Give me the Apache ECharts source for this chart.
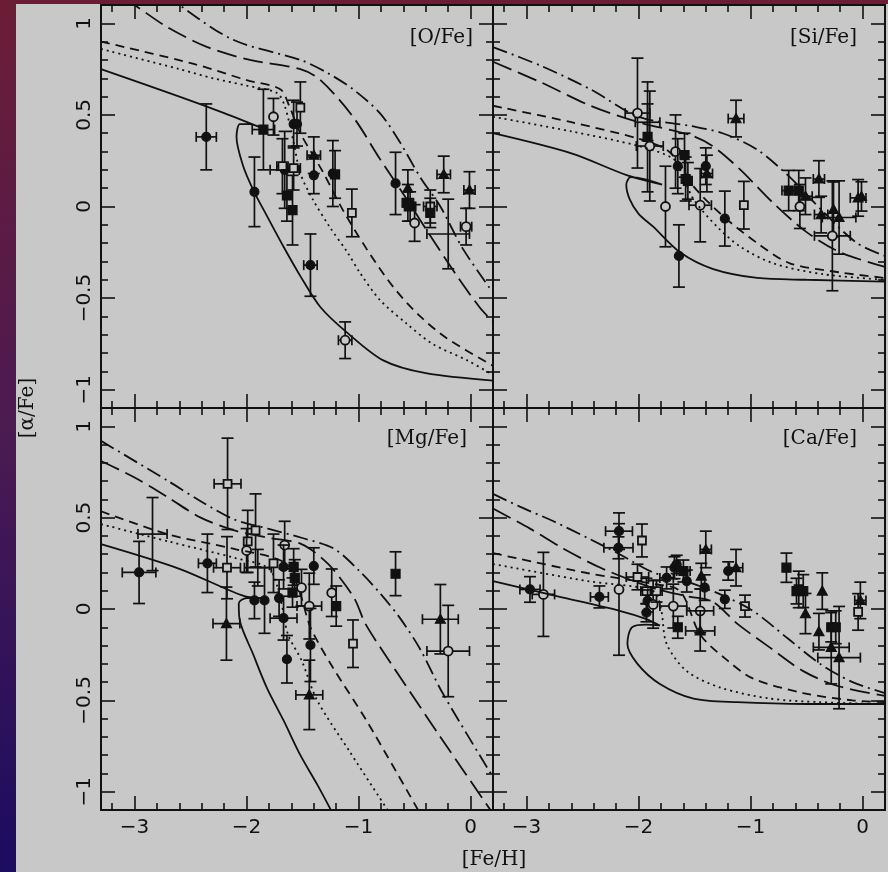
<!DOCTYPE html>
<html>
<head>
<meta charset="utf-8">
<script src="https://cdn.jsdelivr.net/npm/echarts@6/dist/echarts.min.js"></script>
<style>
html, body { margin: 0; padding: 0; width: 888px; height: 872px; overflow: hidden;
  background: linear-gradient(180deg, #6c1d36 0%, #4b1a52 50%, #1b0c60 100%); }
#bg { position: absolute; left: 16px; top: 4px; width: 872px; height: 868px; background: #c8c8c8; }
#main { position: absolute; left: 0; top: 0; width: 888px; height: 872px; }
</style>
</head>
<body>
<div id="bg"></div>
<div id="main"></div>
<script>
// tick positions
var xMajor = [-3, -2, -1, 0];
var xMinor = [-3.2, -2.8, -2.6, -2.4, -2.2, -1.8, -1.6, -1.4, -1.2, -0.8, -0.6, -0.4, -0.2];
var yMajor = [-1, -0.5, 0, 0.5, 1];
var yMinor = [-0.9, -0.8, -0.7, -0.6, -0.4, -0.3, -0.2, -0.1, 0.1, 0.2, 0.3, 0.4, 0.6, 0.7, 0.8, 0.9];

// model curves [Fe/H], [X/Fe]
var oSolid = [[-3.3,0.75],[-2.6,0.60],[-2.2,0.51],[-1.87,0.43],[-1.97,0.45],[-2.06,0.45],[-2.09,0.38],[-2.03,0.22],[-1.94,0.09],[-1.82,-0.05],[-1.67,-0.22],[-1.52,-0.38],[-1.34,-0.55],[-1.1,-0.69],[-0.78,-0.84],[-0.4,-0.91],[0.2,-0.95]];
var oDot = [[-3.3,0.86],[-2.6,0.75],[-2.3,0.70],[-2.0,0.66],[-1.73,0.62],[-1.66,0.55],[-1.58,0.35],[-1.52,0.18],[-1.41,0.04],[-1.26,-0.11],[-1.1,-0.25],[-0.99,-0.36],[-0.81,-0.51],[-0.57,-0.64],[-0.34,-0.75],[-0.03,-0.84],[0.2,-0.92]];
var oDash = [[-3.3,0.90],[-2.48,0.78],[-2.0,0.69],[-1.70,0.64],[-1.62,0.55],[-1.52,0.40],[-1.32,0.19],[-1.14,-0.02],[-0.93,-0.23],[-0.69,-0.44],[-0.45,-0.60],[-0.21,-0.72],[0.2,-0.87]];
var oLong = [[-3.3,1.22],[-3.0,1.1],[-2.71,0.98],[-2.35,0.87],[-1.97,0.80],[-1.52,0.75],[-1.34,0.69],[-1.05,0.49],[-0.81,0.26],[-0.57,0.04],[-0.36,-0.16],[-0.12,-0.38],[0.08,-0.55],[0.2,-0.63]];
var oDashDot = [[-3.3,1.42],[-2.6,1.1],[-2.12,0.91],[-1.52,0.80],[-1.28,0.73],[-1.05,0.64],[-0.81,0.51],[-0.63,0.35],[-0.45,0.16],[-0.27,0.0],[-0.07,-0.23],[0.2,-0.47]];

var siSolid = [[-3.3,0.40],[-2.6,0.29],[-2.1,0.17],[-1.79,0.12],[-1.95,0.15],[-2.07,0.16],[-2.11,0.12],[-2.08,0.04],[-2.0,-0.04],[-1.87,-0.11],[-1.63,-0.25],[-1.34,-0.34],[-0.94,-0.39],[-0.5,-0.40],[0.2,-0.41]];
var siDot = [[-3.3,0.49],[-2.6,0.41],[-2.0,0.33],[-1.69,0.26],[-1.6,0.16],[-1.51,0.04],[-1.30,-0.11],[-1.09,-0.22],[-0.8,-0.31],[-0.35,-0.37],[0.2,-0.40]];
var siDash = [[-3.3,0.55],[-2.6,0.46],[-2.0,0.37],[-1.75,0.31],[-1.62,0.22],[-1.51,0.11],[-1.25,-0.05],[-0.94,-0.20],[-0.65,-0.31],[-0.2,-0.36],[0.2,-0.39]];
var siLong = [[-3.3,0.79],[-2.88,0.68],[-2.43,0.55],[-2.0,0.46],[-1.54,0.39],[-1.34,0.33],[-1.09,0.20],[-0.8,0.02],[-0.5,-0.14],[-0.2,-0.25],[0.2,-0.33]];
var siDashDot = [[-3.3,0.87],[-2.88,0.77],[-2.43,0.64],[-2.0,0.49],[-1.54,0.44],[-1.25,0.40],[-0.94,0.31],[-0.65,0.16],[-0.35,-0.03],[-0.05,-0.20],[0.2,-0.27]];

var mgSolid = [[-3.3,0.355],[-2.6,0.22],[-2.02,0.07],[-1.85,0.06],[-2.0,0.06],[-2.07,0.03],[-2.06,-0.066],[-1.94,-0.25],[-1.82,-0.43],[-1.67,-0.61],[-1.52,-0.80],[-1.37,-0.96],[-1.23,-1.12]];
var mgDot = [[-3.3,0.465],[-2.7,0.37],[-2.11,0.28],[-1.8,0.22],[-1.7,0.06],[-1.63,-0.14],[-1.51,-0.28],[-1.37,-0.50],[-1.08,-0.78],[-0.72,-1.12]];
var mgDash = [[-3.3,0.535],[-2.71,0.41],[-2.12,0.33],[-1.65,0.25],[-1.52,0.08],[-1.43,-0.10],[-1.23,-0.32],[-0.93,-0.61],[-0.45,-1.12]];
var mgLong = [[-3.3,0.81],[-3.0,0.72],[-2.70,0.61],[-2.41,0.50],[-2.11,0.43],[-1.81,0.39],[-1.51,0.355],[-1.27,0.245],[-1.04,0.06],[-0.94,-0.08],[-0.73,-0.28],[-0.27,-0.70],[0.2,-1.12]];
var mgDashDot = [[-3.3,0.92],[-2.70,0.70],[-2.41,0.59],[-2.11,0.49],[-1.81,0.44],[-1.51,0.39],[-1.22,0.33],[-0.98,0.20],[-0.80,0.08],[-0.63,-0.05],[-0.45,-0.22],[-0.25,-0.46],[0.2,-0.92]];

var caSolid = [[-3.3,0.153],[-2.73,0.07],[-2.17,-0.01],[-1.93,-0.055],[-1.81,-0.09],[-1.93,-0.085],[-2.06,-0.10],[-2.10,-0.19],[-2.01,-0.30],[-1.81,-0.41],[-1.51,-0.49],[-1.12,-0.51],[-0.5,-0.52],[0.2,-0.52]];
var caDot = [[-3.3,0.246],[-2.46,0.153],[-1.87,0.098],[-1.80,0.0],[-1.75,-0.19],[-1.57,-0.34],[-1.27,-0.43],[-0.83,-0.49],[-0.38,-0.51],[0.2,-0.52]];
var caDash = [[-3.3,0.306],[-2.46,0.197],[-1.87,0.137],[-1.63,0.098],[-1.45,-0.14],[-1.21,-0.28],[-0.98,-0.38],[-0.53,-0.46],[-0.09,-0.50],[0.2,-0.51]];
var caLong = [[-3.3,0.55],[-2.97,0.44],[-2.67,0.33],[-2.32,0.22],[-1.87,0.115],[-1.57,0.07],[-1.34,0.04],[-1.12,-0.08],[-0.83,-0.21],[-0.53,-0.34],[-0.23,-0.42],[0.2,-0.475]];
var caDashDot = [[-3.3,0.63],[-3.06,0.56],[-2.76,0.48],[-2.46,0.39],[-2.17,0.30],[-1.87,0.20],[-1.57,0.15],[-1.27,0.08],[-0.98,-0.01],[-0.67,-0.16],[-0.38,-0.30],[-0.09,-0.40],[0.2,-0.46]];

// stars: [Fe/H], [X/Fe], xerr, yerr, symbol (0 filled circle, 1 open circle, 2 filled square, 3 open square, 4 triangle, 5 none)
var oStars = [[-2.36,0.38,0.09,0.18,0],[-1.93,0.08,0,0.19,0],[-1.85,0.42,0.10,0.22,2],[-1.76,0.49,0,0.10,1],[-1.66,0.20,0.13,0.21,0],[-1.68,0.22,0.05,0.15,3],[-1.64,0.06,0,0.14,2],[-1.59,-0.02,0,0.19,2],[-1.58,0.45,0,0.13,0],[-1.55,0.45,0,0.12,0],[-1.52,0.54,0,0.14,3],[-1.58,0.21,0.06,0.12,3],[-1.40,0.28,0.06,0.10,4],[-1.40,0.17,0,0.10,0],[-1.23,0.18,0,0.18,0],[-1.21,0.175,0,0.13,2],[-1.43,-0.32,0.06,0.17,0],[-1.06,-0.035,0,0.13,3],[-1.12,-0.73,0.06,0.10,1],[-0.67,0.126,0,0.17,0],[-0.56,0.10,0,0.10,4],[-0.56,0.02,0.05,0.10,2],[-0.54,0.0,0.05,0.08,2],[-0.50,-0.09,0,0.10,1],[-0.36,0.0,0.06,0.09,3],[-0.36,-0.035,0,0.08,2],[-0.24,0.175,0.06,0.10,4],[-0.20,-0.15,0.19,0.19,5],[-0.01,0.09,0.05,0.10,4],[-0.04,-0.11,0.05,0.10,1]];
var siStars = [[-2.01,0.51,0.11,0.30,1],[-1.92,0.38,0,0.30,2],[-1.92,0.46,0.11,0.10,5],[-1.90,0.33,0.12,0.30,1],[-1.76,0.0,0,0.22,1],[-1.67,0.30,0,0.20,1],[-1.65,0.22,0,0.15,0],[-1.59,0.28,0,0.12,2],[-1.58,0.15,0,0.12,2],[-1.56,0.14,0,0.10,2],[-1.64,-0.27,0,0.17,0],[-1.40,0.22,0,0.10,0],[-1.39,0.18,0.05,0.10,4],[-1.45,0.007,0.10,0.20,1],[-1.23,-0.066,0,0.15,0],[-1.06,0.007,0,0.13,3],[-1.13,0.48,0.07,0.10,4],[-0.66,0.087,0.06,0.11,2],[-0.57,0.087,0,0.11,2],[-0.56,0.0,0,0.12,1],[-0.51,0.056,0.06,0.10,4],[-0.39,0.15,0.05,0.10,4],[-0.37,-0.044,0.06,0.10,4],[-0.26,-0.016,0,0.15,4],[-0.27,-0.16,0.16,0.30,1],[-0.21,-0.06,0.15,0.20,4],[-0.04,0.047,0.07,0.10,4],[-0.01,0.055,0,0.08,4]];
var mgStars = [[-2.96,0.20,0.15,0.17,0],[-2.84,0.41,0.13,0.20,5],[-2.35,0.25,0.08,0.16,0],[-2.17,0.685,0.12,0.25,3],[-2.175,0.226,0.12,0.17,3],[-2.18,-0.08,0.12,0.20,4],[-1.99,0.37,0,0.17,3],[-2.0,0.32,0,0.12,1],[-1.92,0.43,0,0.20,3],[-1.90,0.226,0.12,0.10,5],[-1.93,0.047,0,0.10,0],[-1.84,0.047,0,0.18,0],[-1.76,0.25,0,0.16,3],[-1.66,0.35,0,0.13,1],[-1.67,0.23,0,0.12,0],[-1.71,0.06,0,0.10,0],[-1.67,-0.05,0.12,0.12,0],[-1.64,-0.275,0,0.13,0],[-1.58,0.23,0,0.10,2],[-1.57,0.17,0,0.10,2],[-1.51,0.117,0,0.10,1],[-1.59,0.09,0,0.08,2],[-1.40,0.235,0,0.10,0],[-1.44,0.016,0.11,0.18,1],[-1.43,-0.197,0,0.20,0],[-1.44,-0.47,0.12,0.19,4],[-1.24,0.089,0,0.13,1],[-1.20,0.016,0,0.11,2],[-1.05,-0.19,0,0.13,3],[-0.67,0.193,0,0.12,2],[-0.27,-0.056,0.16,0.19,4],[-0.20,-0.23,0.19,0.25,1]];
var caStars = [[-2.97,0.107,0.09,0.07,0],[-2.85,0.08,0.10,0.23,1],[-2.35,0.066,0.08,0.06,0],[-2.175,0.426,0.12,0.10,0],[-2.18,0.335,0.13,0.06,0],[-2.175,0.107,0,0.36,1],[-1.97,0.375,0,0.09,3],[-2.01,0.175,0.10,0.07,3],[-1.93,0.098,0.05,0.07,3],[-1.92,0.044,0,0.06,0],[-1.93,-0.02,0,0.05,0],[-1.87,0.025,0,0.13,1],[-1.84,0.098,0.05,0.06,3],[-1.75,0.17,0.06,0.06,0],[-1.68,0.226,0,0.06,0],[-1.66,0.244,0,0.05,0],[-1.60,0.208,0.06,0.06,2],[-1.57,0.153,0,0.06,0],[-1.69,0.016,0.12,0.12,1],[-1.65,-0.10,0,0.06,2],[-1.40,0.326,0.05,0.10,4],[-1.44,0.18,0,0.07,4],[-1.41,0.117,0,0.07,0],[-1.45,-0.01,0.12,0.12,1],[-1.45,-0.12,0.13,0.11,4],[-1.23,0.053,0,0.05,0],[-1.20,0.208,0,0.05,0],[-1.13,0.226,0.06,0.10,4],[-1.05,0.016,0,0.06,3],[-0.68,0.226,0,0.08,2],[-0.59,0.098,0,0.07,2],[-0.57,0.107,0,0.10,2],[-0.53,0.098,0,0.09,2],[-0.51,-0.025,0,0.11,4],[-0.36,0.098,0,0.10,4],[-0.39,-0.124,0,0.10,4],[-0.28,-0.10,0,0.08,2],[-0.24,-0.10,0,0.09,2],[-0.28,-0.21,0.16,0.20,4],[-0.21,-0.266,0.19,0.28,4],[-0.02,0.047,0.05,0.10,4],[-0.04,-0.016,0,0.10,3]];

var ink = '#111';
var paper = '#c8c8c8';

function fmt(v) {
  return v < 0 ? '\u2212' + Math.abs(v) : String(v);
}

var grids = [
  {left: 101, top: 5, width: 392, height: 403},
  {left: 493, top: 5, width: 392, height: 403},
  {left: 101, top: 408, width: 392, height: 402},
  {left: 493, top: 408, width: 392, height: 402}
];

var xAxes = [], yAxes = [];
function xAx(g, pos, vals, len, major, label) {
  return {
    type: 'value', gridIndex: g, position: pos, min: -3.3, max: 0.2,
    axisLine: {show: major, onZero: false, lineStyle: {color: ink, width: 2}},
    axisTick: {show: true, inside: true, length: len, customValues: vals, lineStyle: {color: ink, width: 1.6}},
    axisLabel: {show: label, customValues: xMajor, formatter: fmt, color: ink,
      fontFamily: 'DejaVu Sans', fontSize: 20, margin: 8},
    splitLine: {show: false}
  };
}
function yAx(g, pos, vals, len, major) {
  return {
    type: 'value', gridIndex: g, position: pos, min: -1.1, max: 1.1,
    axisLine: {show: major, onZero: false, lineStyle: {color: ink, width: 2}},
    axisTick: {show: true, inside: true, length: len, customValues: vals, lineStyle: {color: ink, width: 1.6}},
    axisLabel: {show: major && pos === 'left' && (g === 0 || g === 2), customValues: yMajor, formatter: fmt,
      color: ink, fontFamily: 'DejaVu Sans', fontSize: 20, margin: 6, rotate: 90},
    splitLine: {show: false}
  };
}
for (var g = 0; g < 4; g++) {
  var bottomRow = g >= 2;
  xAxes.push(xAx(g, 'bottom', xMajor, 14, true, bottomRow));
  xAxes.push(xAx(g, 'bottom', xMinor, 7, false, false));
  xAxes.push(xAx(g, 'top', xMajor, 14, true, false));
  xAxes.push(xAx(g, 'top', xMinor, 7, false, false));
  yAxes.push(yAx(g, 'left', yMajor, 14, true));
  yAxes.push(yAx(g, 'left', yMinor, 7, false));
  yAxes.push(yAx(g, 'right', yMajor, 14, true));
  yAxes.push(yAx(g, 'right', yMinor, 7, false));
}

var styles = ['solid', [2, 4], [9, 6], [20, 7], [15, 5, 2, 5]];

function curve(g, data, k) {
  return {
    type: 'line', xAxisIndex: 4 * g, yAxisIndex: 4 * g, data: data,
    symbol: 'none', smooth: 0.3, clip: true, silent: true,
    lineStyle: {color: ink, width: 1.8, type: styles[k]}
  };
}

function renderStar(params, api) {
  var x = api.value(0), y = api.value(1), xe = api.value(2), ye = api.value(3), s = api.value(4);
  var c = api.coord([x, y]);
  var st = {stroke: ink, lineWidth: 1.7};
  var kids = [];
  function seg(x1, y1, x2, y2) {
    kids.push({type: 'line', shape: {x1: x1, y1: y1, x2: x2, y2: y2}, style: st});
  }
  if (ye > 0) {
    var t = api.coord([x, y + ye])[1], b = api.coord([x, y - ye])[1];
    seg(c[0], t, c[0], b);
    seg(c[0] - 6, t, c[0] + 6, t);
    seg(c[0] - 6, b, c[0] + 6, b);
  }
  if (xe > 0) {
    var l = api.coord([x - xe, y])[0], r = api.coord([x + xe, y])[0];
    seg(l, c[1], r, c[1]);
    seg(l, c[1] - 5, l, c[1] + 5);
    seg(r, c[1] - 5, r, c[1] + 5);
  }
  var filled = {fill: ink, stroke: ink, lineWidth: 1.2};
  var open = {fill: paper, stroke: ink, lineWidth: 1.8};
  if (s === 0) kids.push({type: 'circle', shape: {cx: c[0], cy: c[1], r: 4.5}, style: filled});
  if (s === 1) kids.push({type: 'circle', shape: {cx: c[0], cy: c[1], r: 4.5}, style: open});
  if (s === 2) kids.push({type: 'rect', shape: {x: c[0] - 4.5, y: c[1] - 4.5, width: 9, height: 9}, style: filled});
  if (s === 3) kids.push({type: 'rect', shape: {x: c[0] - 4, y: c[1] - 4, width: 8, height: 8}, style: open});
  if (s === 4) kids.push({type: 'polygon', shape: {points: [[c[0], c[1] - 5], [c[0] - 5, c[1] + 4], [c[0] + 5, c[1] + 4]]}, style: filled});
  return {type: 'group', children: kids};
}

function stars(g, data) {
  return {
    type: 'custom', xAxisIndex: 4 * g, yAxisIndex: 4 * g, data: data,
    renderItem: renderStar, silent: true, z: 3
  };
}

var panels = [
  [oSolid, oDot, oDash, oLong, oDashDot, oStars],
  [siSolid, siDot, siDash, siLong, siDashDot, siStars],
  [mgSolid, mgDot, mgDash, mgLong, mgDashDot, mgStars],
  [caSolid, caDot, caDash, caLong, caDashDot, caStars]
];
var series = [];
panels.forEach(function (p, g) {
  for (var k = 0; k < 5; k++) series.push(curve(g, p[k], k));
  series.push(stars(g, p[5]));
});

var serif = '20px "DejaVu Serif"';
function label(x, y, text, rot) {
  return {
    type: 'text', x: x, y: y, rotation: rot || 0, silent: true, z: 10,
    style: {text: text, font: serif, fill: ink, align: rot ? 'center' : 'right', verticalAlign: 'middle',
      textAlign: rot ? 'center' : 'right', textVerticalAlign: 'middle'}
  };
}

var chart = echarts.init(document.getElementById('main'), null, {renderer: 'canvas'});
chart.setOption({
  animation: false,
  backgroundColor: 'transparent',
  grid: grids,
  xAxis: xAxes,
  yAxis: yAxes,
  series: series,
  graphic: [
    label(473, 38, '[O/Fe]'),
    label(857, 38, '[Si/Fe]'),
    label(467, 439, '[Mg/Fe]'),
    label(857, 439, '[Ca/Fe]'),
    {type: 'text', x: 494, y: 860, silent: true,
      style: {text: '[Fe/H]', font: serif, fill: ink, align: 'center', verticalAlign: 'middle', textAlign: 'center', textVerticalAlign: 'middle'}},
    label(28, 408, '[\u03b1/Fe]', Math.PI / 2)
  ]
});
window.addEventListener('resize', function () {
  chart.resize();
});
</script>
</body>
</html>
